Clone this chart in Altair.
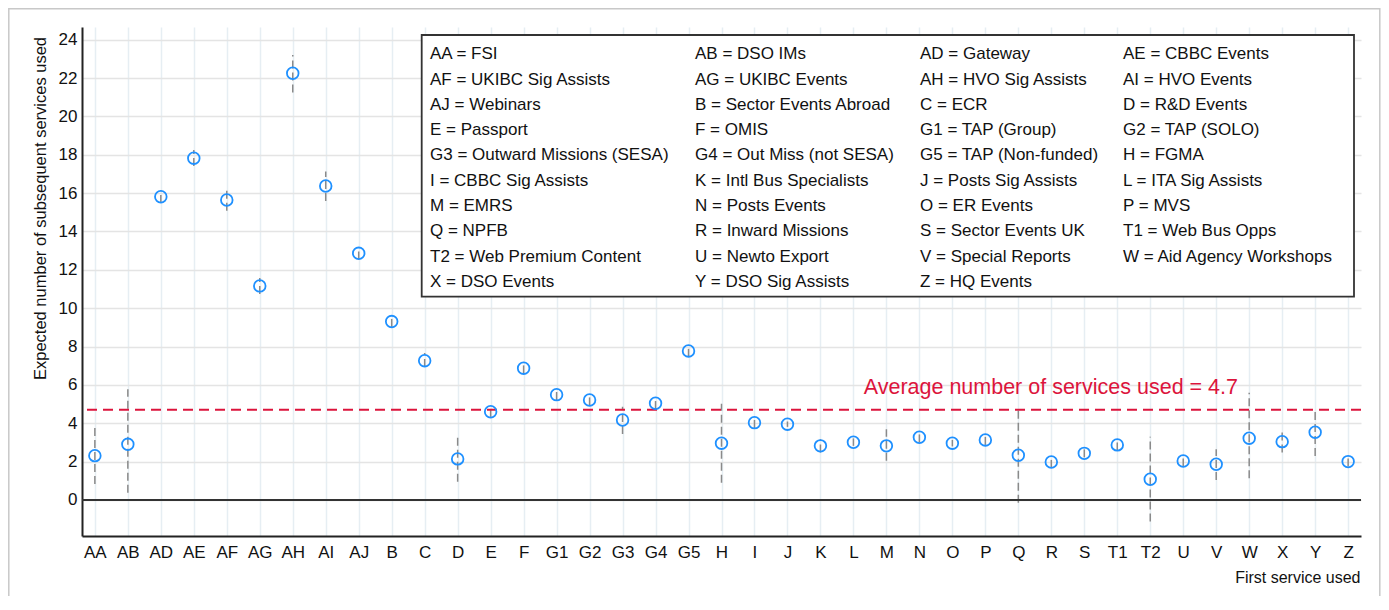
import altair as alt
import pandas as pd

categories = ["AA", "AB", "AD", "AE", "AF", "AG", "AH", "AI", "AJ", "B", "C", "D", "E", "F",
              "G1", "G2", "G3", "G4", "G5", "H", "I", "J", "K", "L", "M", "N", "O", "P", "Q",
              "R", "S", "T1", "T2", "U", "V", "W", "X", "Y", "Z"]
means = [2.31, 2.90, 15.81, 17.82, 15.64, 11.16, 22.25, 16.37, 12.86, 9.30, 7.26, 2.14, 4.60, 6.87,
         5.49, 5.21, 4.17, 5.04, 7.77, 2.96, 4.03, 3.95, 2.82, 3.01, 2.82, 3.27, 2.96, 3.13, 2.33,
         1.98, 2.43, 2.87, 1.08, 2.03, 1.86, 3.22, 3.04, 3.53, 2.00]
lower = [0.83, 0.38, 15.48, 17.41, 15.08, 10.74, 21.24, 15.59, 12.54, 9.02, 6.93, 0.95, 4.33, 6.60,
         5.21, 4.93, 3.44, 4.74, 7.46, 0.90, 3.75, 3.81, 2.48, 2.82, 2.05, 3.00, 2.79, 2.87, -0.14,
         1.67, 2.22, 2.58, -1.13, 1.75, 1.04, 1.13, 2.47, 2.29, 1.75]
upper = [3.82, 5.77, 16.13, 18.25, 16.25, 11.57, 23.20, 17.12, 13.19, 9.59, 7.66, 3.39, 4.90, 7.14,
         5.79, 5.50, 4.86, 5.32, 8.08, 5.01, 4.33, 4.09, 3.16, 3.21, 3.69, 3.55, 3.13, 3.39, 4.83,
         2.29, 2.66, 3.15, 3.30, 2.32, 2.64, 5.59, 3.69, 4.69, 2.24]
average = 4.7
y_ticks = [0, 2, 4, 6, 8, 10, 12, 14, 16, 18, 20, 22, 24]

legend_col1 = ["AA = FSI", "AF = UKIBC Sig Assists", "AJ = Webinars", "E = Passport",
               "G3 = Outward Missions (SESA)", "I = CBBC Sig Assists", "M = EMRS", "Q = NPFB",
               "T2 = Web Premium Content", "X = DSO Events"]
legend_col2 = ["AB = DSO IMs", "AG = UKIBC Events", "B = Sector Events Abroad", "F = OMIS",
               "G4 = Out Miss (not SESA)", "K = Intl Bus Specialists", "N = Posts Events",
               "R = Inward Missions", "U = Newto Export", "Y = DSO Sig Assists"]
legend_col3 = ["AD = Gateway", "AH = HVO Sig Assists", "\u00a0C = ECR", "G1 = TAP (Group)",
               "G5 = TAP (Non-funded)", "J = Posts Sig Assists", "O = ER Events",
               "S = Sector Events UK", "V = Special Reports", "Z = HQ Events"]
legend_col4 = ["AE = CBBC Events", "AI = HVO Events", "D = R&D Events", "G2 = TAP (SOLO)",
               "H = FGMA", "L = ITA Sig Assists", "P = MVS", "T1 = Web Bus Opps",
               "W = Aid Agency Workshops"]

y_title = "Expected number of subsequent services used"
x_title = "First service used"
avg_label = f"Average number of services used = {average}"

FONT = "Liberation Sans"
BLUE = "#1e90ff"
RED = "#dc143c"

df = pd.DataFrame({"cat": categories, "mean": means, "lo": lower, "hi": upper})

yscale = alt.Scale(domain=[-1.88, 24.66], nice=False, zero=False)
xscale = alt.Scale(type="point", padding=0.39)

x_axis = alt.Axis(title=x_title, labelAngle=0, ticks=False, tickSize=0, labelPadding=8,
                  grid=True, gridColor="#e6eef3", gridWidth=1.5,
                  domainColor="#222", domainWidth=2,
                  titleX=1278, titleY=41, titleAlign="right", titleBaseline="middle",
                  titleFontSize=16, titleFontWeight="normal")
y_axis = alt.Axis(title=y_title, values=y_ticks, ticks=False, tickSize=0, labelPadding=5,
                  grid=True, gridColor="#e4e4e4", gridWidth=1.5,
                  domainColor="#222", domainWidth=2,
                  titleAngle=270, titleX=-42, titleY=181, titleAlign="center",
                  titleBaseline="middle", titleFontSize=16.5, titleFontWeight="normal")

X = alt.X("cat:N", sort=categories, scale=xscale, axis=x_axis, title=x_title)

base = alt.Chart(df)

errbars = base.mark_rule(color="#8a8a8a", strokeWidth=1.5, strokeDash=[8, 4]).encode(
    x=X,
    y=alt.Y("lo:Q", scale=yscale, axis=y_axis, title=y_title),
    y2="hi:Q",
)

points = base.mark_point(shape="circle", filled=False, size=135, strokeWidth=1.8,
                         color=BLUE, opacity=1).encode(
    x=X,
    y=alt.Y("mean:Q", scale=yscale, axis=y_axis, title=y_title),
)

avg_df = pd.DataFrame({"avg": [average]})
zero_line = alt.Chart(avg_df).mark_rule(color="#333333", strokeWidth=2).encode(
    y=alt.Y("zero:Q", scale=yscale, axis=y_axis, title=y_title),
).transform_calculate(zero="0")
avg_line = alt.Chart(avg_df).mark_rule(color=RED, strokeWidth=2, strokeDash=[10, 6]).encode(
    y=alt.Y("avg:Q", scale=yscale, axis=y_axis, title=y_title),
)
avg_text = alt.Chart(avg_df).mark_text(align="right", baseline="alphabetic", dy=-16,
                                       fontSize=21.5, color=RED, font=FONT).encode(
    x=alt.value(1156),
    y=alt.Y("avg:Q", scale=yscale, axis=y_axis, title=y_title),
    text=alt.value(avg_label),
)

one = pd.DataFrame({"k": [0]})
box = alt.Chart(one).mark_rect(fill="white", stroke="#333333", strokeWidth=1.8).encode(
    x=alt.value(339.7), x2=alt.value(1272), y=alt.value(8), y2=alt.value(269.7),
)
frame = alt.Chart(one).mark_rect(fill="transparent", stroke="#c8c8c8", strokeWidth=1.5).encode(
    x=alt.value(-73.2), x2=alt.value(1297.8), y=alt.value(-18.2), y2=alt.value(600),
)

legend_layers = []
for colx, col in zip([348, 613, 838, 1041], [legend_col1, legend_col2, legend_col3, legend_col4]):
    legend_layers.append(
        alt.Chart(one).mark_text(align="left", baseline="alphabetic", fontSize=17,
                                 lineBreak="\n", lineHeight=25.27, color="#111", font=FONT).encode(
            x=alt.value(colx), y=alt.value(32.4), text=alt.value("\n".join(col)),
        )
    )

chart = alt.layer(frame, errbars, zero_line, avg_line, points, avg_text, box, *legend_layers).properties(
    width=1279, height=509,
    autosize=alt.AutoSizeParams(type="none"),
    padding={"left": 74, "top": 19, "right": 20, "bottom": 60},
).configure(font=FONT).configure_view(stroke=None).configure_axis(
    labelFont=FONT, labelFontSize=17, labelColor="#111", titleFont=FONT, titleColor="#111",
)

chart.save("out.html", embed_options={"renderer": "svg", "actions": False})
